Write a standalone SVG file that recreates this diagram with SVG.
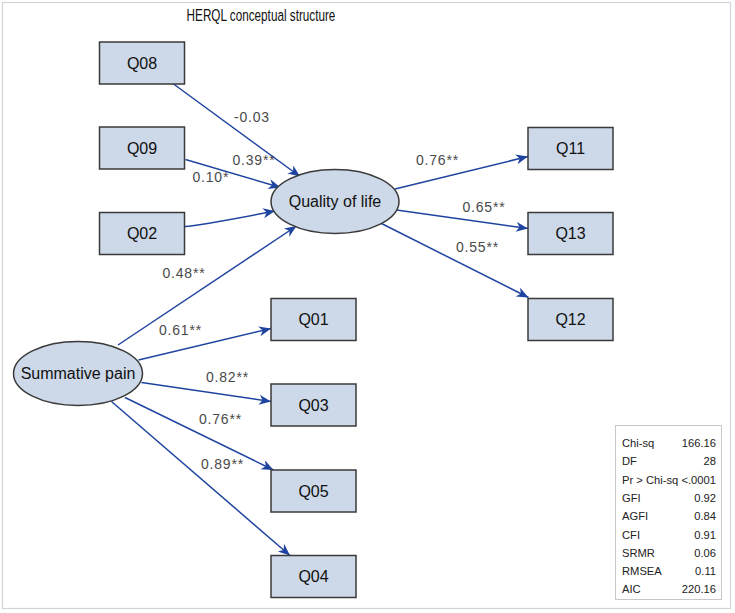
<svg xmlns="http://www.w3.org/2000/svg" width="735" height="613" viewBox="0 0 735 613">
<defs>
<style>
.frame{fill:#fff;stroke:#d4d4d4;stroke-width:1.2}
.box{fill:#cdd8e8;stroke:#3a3a3a;stroke-width:1.5}
.ell{fill:#cdd8e8;stroke:#3a3a3a;stroke-width:1.5}
.nt{font-family:"Liberation Sans",Arial,sans-serif;font-size:16px;fill:#111;text-anchor:middle;dominant-baseline:central}
.edge{fill:none;stroke:#1f44a0;stroke-width:1.5;marker-end:url(#arr)}
.lab{font-family:"Liberation Sans",Arial,sans-serif;font-size:14px;fill:#4a4a4a;letter-spacing:0.8px}
.st{font-family:"Liberation Sans",Arial,sans-serif;font-size:11.2px;fill:#222}
.sv{font-family:"Liberation Sans",Arial,sans-serif;font-size:11.2px;fill:#222;text-anchor:end}
</style>
<marker id="arr" markerUnits="userSpaceOnUse" markerWidth="14" markerHeight="12" refX="12" refY="5" orient="auto">
<path d="M0,0 L12,5 L0,10 L3.5,5 z" fill="#1f44a0"/>
</marker>
</defs>
<rect class="frame" x="2.5" y="2.5" width="728" height="606"/>
<text transform="translate(261,21) scale(0.69,1)" x="0" y="0" font-family="'Liberation Sans',Arial,sans-serif" font-size="17" fill="#111" text-anchor="middle">HERQL conceptual structure</text>

<g id="connectors">
<path class="edge" d="M171.5,82.5 L300,176.5"/>
<path class="edge" d="M185.5,159.5 L280.5,187.5"/>
<path class="edge" d="M185,226.5 Q200,225.5 275,211"/>
<path class="edge" d="M118,345 L296.5,226"/>
<path class="edge" d="M395,189 L528,156.5"/>
<path class="edge" d="M396.5,210 L528,228.5"/>
<path class="edge" d="M381.5,223.5 L528.5,297.5"/>
<path class="edge" d="M138.5,360 L271,328.5"/>
<path class="edge" d="M141.5,382.5 L271,401.5"/>
<path class="edge" d="M125,397.5 L273.5,470"/>
<path class="edge" d="M111.5,401.5 L290,555.5"/>
<text class="lab" x="234" y="121.5">-0.03</text>
<text class="lab" x="232.5" y="165">0.39**</text>
<text class="lab" x="192.5" y="181.5">0.10*</text>
<text class="lab" x="416" y="165">0.76**</text>
<text class="lab" x="462.5" y="212">0.65**</text>
<text class="lab" x="456" y="251.5">0.55**</text>
<text class="lab" x="162.5" y="278">0.48**</text>
<text class="lab" x="159" y="335">0.61**</text>
<text class="lab" x="206" y="381.5">0.82**</text>
<text class="lab" x="199" y="424">0.76**</text>
<text class="lab" x="201" y="469">0.89**</text>
</g>

<g id="Q08"><rect class="box" x="99.5" y="42" width="85" height="42"/><text class="nt" x="142" y="63">Q08</text></g>
<g id="Q09"><rect class="box" x="99.5" y="127" width="85" height="42"/><text class="nt" x="142" y="148">Q09</text></g>
<g id="Q02"><rect class="box" x="99.5" y="212.5" width="85" height="42"/><text class="nt" x="142" y="233.5">Q02</text></g>
<g id="QoL"><ellipse class="ell" cx="335" cy="201.5" rx="64" ry="32"/><text class="nt" x="335" y="201.5">Quality of life</text></g>
<g id="Q11"><rect class="box" x="528" y="127.5" width="85" height="42"/><text class="nt" x="570.5" y="148.5">Q11</text></g>
<g id="Q13"><rect class="box" x="528" y="212.5" width="85" height="42"/><text class="nt" x="570.5" y="233.5">Q13</text></g>
<g id="Q12"><rect class="box" x="528" y="298.5" width="85" height="42"/><text class="nt" x="570.5" y="319.5">Q12</text></g>
<g id="SP"><ellipse class="ell" cx="78" cy="373.5" rx="64.5" ry="32"/><text class="nt" x="78" y="373.5">Summative pain</text></g>
<g id="Q01"><rect class="box" x="271" y="298.5" width="85" height="42"/><text class="nt" x="313.5" y="319.5">Q01</text></g>
<g id="Q03"><rect class="box" x="271" y="384" width="85" height="42"/><text class="nt" x="313.5" y="405">Q03</text></g>
<g id="Q05"><rect class="box" x="271" y="470" width="85" height="42"/><text class="nt" x="313.5" y="491">Q05</text></g>
<g id="Q04"><rect class="box" x="271" y="555.5" width="85" height="42"/><text class="nt" x="313.5" y="576.5">Q04</text></g>

<g id="fit-stats">
<rect x="615.5" y="425.5" width="106" height="174" fill="#fff" stroke="#c8c8c8" stroke-width="1"/>
<text class="st" x="622" y="447">Chi-sq</text><text class="sv" x="716" y="447">166.16</text>
<text class="st" x="622" y="465.3">DF</text><text class="sv" x="716" y="465.3">28</text>
<text class="st" x="622" y="483.6">Pr &gt; Chi-sq</text><text class="sv" x="716" y="483.6">&lt;.0001</text>
<text class="st" x="622" y="501.9">GFI</text><text class="sv" x="716" y="501.9">0.92</text>
<text class="st" x="622" y="520.2">AGFI</text><text class="sv" x="716" y="520.2">0.84</text>
<text class="st" x="622" y="538.5">CFI</text><text class="sv" x="716" y="538.5">0.91</text>
<text class="st" x="622" y="556.8">SRMR</text><text class="sv" x="716" y="556.8">0.06</text>
<text class="st" x="622" y="575.1">RMSEA</text><text class="sv" x="716" y="575.1">0.11</text>
<text class="st" x="622" y="593.4">AIC</text><text class="sv" x="716" y="593.4">220.16</text>
</g>
</svg>
